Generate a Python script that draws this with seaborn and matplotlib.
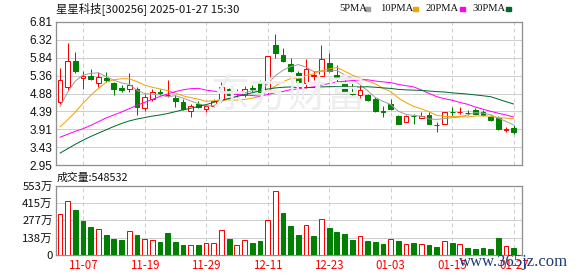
import numpy as np
import matplotlib
matplotlib.use("Agg")
import matplotlib.pyplot as plt
import seaborn as sns
from matplotlib.patches import Rectangle

# ---------------- data ----------------
open_ = [4.65, 5.06, 5.75, 5.31, 5.34, 5.15, 5.31, 5.15, 5.04, 4.99,
         5.01, 4.48, 4.72, 4.91, 4.83, 4.76, 4.65, 4.41, 4.59, 4.46,
         4.54, 4.70, 5.01, 4.86, 4.83, 5.02, 5.17, 4.92, 6.20, 5.91,
         5.68, 5.42, 5.15, 5.36, 5.35, 5.71, 5.39, 5.19, 4.89, 4.83,
         4.83, 4.74, 4.40, 4.61, 4.27, 4.12, 4.27, 4.21, 4.31, 4.02,
         4.07, 4.38, 4.37, 4.36, 4.43, 4.38, 4.25, 4.21, 3.90, 3.95]
high = [5.57, 6.24, 6.00, 5.50, 5.55, 5.46, 5.46, 5.20, 5.12, 5.43,
        5.06, 4.86, 4.99, 4.99, 5.25, 4.83, 4.72, 4.59, 4.67, 4.56,
        4.72, 5.19, 5.04, 5.01, 5.07, 5.12, 5.24, 5.90, 6.49, 6.10,
        5.84, 5.50, 5.82, 5.50, 6.20, 5.98, 5.64, 5.24, 5.15, 5.25,
        4.87, 4.79, 4.54, 4.74, 4.31, 4.30, 4.32, 4.38, 4.38, 4.12,
        4.38, 4.52, 4.52, 4.43, 4.48, 4.43, 4.30, 4.28, 3.98, 4.03]
low = [4.59, 4.97, 5.43, 5.01, 5.24, 5.06, 5.19, 4.83, 4.92, 4.92,
       4.30, 4.41, 4.68, 4.83, 4.79, 4.52, 4.43, 4.25, 4.49, 4.38,
       4.52, 4.65, 4.83, 4.79, 4.79, 4.92, 4.92, 4.88, 5.84, 5.73,
       5.46, 5.15, 5.03, 5.24, 5.35, 5.45, 5.19, 4.90, 4.83, 4.76,
       4.68, 4.38, 4.25, 4.43, 4.05, 4.12, 4.05, 4.21, 4.07, 3.85,
       4.05, 4.27, 4.32, 4.30, 4.32, 4.27, 4.14, 3.89, 3.85, 3.80]
close = [5.24, 5.75, 5.50, 5.34, 5.28, 5.32, 5.24, 5.01, 4.97, 5.10,
         4.52, 4.79, 4.91, 4.89, 4.84, 4.68, 4.45, 4.54, 4.52, 4.55,
         4.68, 5.06, 4.85, 4.87, 5.01, 5.00, 4.92, 5.90, 5.97, 5.75,
         5.49, 5.19, 5.55, 5.37, 5.80, 5.50, 5.31, 4.92, 4.88, 4.97,
         4.70, 4.40, 4.38, 4.46, 4.07, 4.27, 4.26, 4.28, 4.07, 4.03,
         4.38, 4.37, 4.38, 4.35, 4.34, 4.31, 4.16, 3.91, 3.92, 3.85]
# volume in 万 (10k shares)
volume = [326, 427, 361, 273, 222, 206, 160, 128, 120, 190,
          160, 126, 120, 104, 176, 104, 80, 77, 80, 96,
          96, 198, 128, 77, 118, 96, 112, 278, 510, 331,
          227, 160, 240, 152, 286, 216, 184, 168, 120, 152,
          112, 104, 88, 126, 112, 88, 96, 88, 80, 64,
          112, 96, 88, 56, 48, 56, 48, 136, 72, 54.85]
vol_dir = list("RRGGGRGGGRGRRGGGGRGRRRGRRGGRRGGGRGRGGGGRGGGRGRGRGGRGRGGGGGRG")

# moving-average values before a full window is visible
ma5_head = [4.52, 4.92, 5.22, 5.38]
ma10_head = [3.98, 4.17, 4.38, 4.62, 4.83, 5.02, 5.18, 5.25, 5.28]
ma20_head = [3.70, 3.78, 3.86, 3.93, 4.02, 4.12, 4.22, 4.30, 4.38, 4.47,
             4.56, 4.64, 4.72, 4.80, 4.87, 4.93, 4.98, 5.01, 5.02]
ma30_head = [3.27, 3.39, 3.51, 3.62, 3.72, 3.81, 3.90, 3.99, 4.07, 4.14,
             4.19, 4.23, 4.27, 4.30, 4.34, 4.39, 4.44, 4.48, 4.53, 4.58,
             4.64, 4.70, 4.75, 4.80, 4.85, 4.90, 4.95, 5.00, 5.03]

tick_idx = [3, 11, 19, 27, 35, 43, 51, 59]
tick_labels = ["11-07", "11-19", "11-29", "12-11", "12-23", "01-03", "01-15", "01-27"]
price_ticks = ["2.95", "3.43", "3.91", "4.39", "4.88", "5.36", "5.84", "6.32", "6.81"]
vol_ticks = ["0", "138万", "277万", "415万", "553万"]
title = "星星科技[300256] 2025-01-27 15:30"
vol_title = "成交量:548532"
ma_names = ["5PMA", "10PMA", "20PMA", "30PMA"]

# ---------------- styling ----------------
sns.set_theme(style="white")
plt.rcParams["font.family"] = ["Liberation Sans", "Noto Sans CJK SC", "DejaVu Sans"]

RED = "#ff0000"
GREEN = "#008000"
MA_COLORS = ["#a0a0a0", "#f5a300", "#ff00ff", "#006a2e"]
GRID = "#cfcfcf"
FRAME = "#909090"
W, H = 578, 276
px = 72 / 100  # one pixel in points

fig = plt.figure(figsize=(W / 100, H / 100), dpi=100)
fig.patch.set_facecolor("white")
ax1 = fig.add_axes([56 / W, 1 - 165 / H, 466 / W, 143 / H])
ax2 = fig.add_axes([56 / W, 1 - 255 / H, 466 / W, 69.5 / H])

n = len(close)
x = np.arange(n)
o = np.array(open_); c = np.array(close); hi = np.array(high); lo = np.array(low)
up = c >= o


def moving_average(head, w):
    out = list(head)
    for i in range(len(head), n):
        out.append(float(np.mean(c[i - w + 1:i + 1])))
    return np.array(out)


mas = [moving_average(ma5_head, 5), moving_average(ma10_head, 10),
       moving_average(ma20_head, 20), moving_average(ma30_head, 30)]

XL = (-0.52, 60.08)
bw = 0.62

# ---- price panel ----
ax1.set_xlim(*XL)
ax1.set_ylim(2.95, 6.81)
yt = np.linspace(2.95, 6.81, 9)
ax1.set_yticks(yt)
ax1.set_yticklabels(price_ticks)
ax1.set_xticks([])
for v in yt[1:-1]:
    ax1.axhline(v, color=GRID, lw=1 * px, zorder=0)
for t in tick_idx:
    ax1.axvline(t, color=GRID, lw=1 * px, ls=(0, (4, 3)), zorder=0)

# watermark
fig.text(288 / W, 1 - 96 / H, "东方财富", fontsize=28, color="#eeeeee",
         ha="center", va="center", family=["Noto Sans CJK SC"], zorder=0.5)

cols = np.where(up, RED, GREEN)
ax1.vlines(x, lo, hi, colors=cols, lw=1 * px, zorder=2)
body_h = np.maximum(np.abs(c - o), 0.004)
ax1.bar(x, body_h, bottom=np.minimum(o, c), width=bw,
        color=np.where(up, "white", GREEN), edgecolor=cols, linewidth=1 * px, zorder=3)

for ma, col in zip(mas, MA_COLORS):
    sns.lineplot(x=x, y=ma, ax=ax1, color=col, lw=1 * px, zorder=4)

# ---- volume panel ----
ax2.set_xlim(*XL)
ax2.set_ylim(0, 553)
vt = np.linspace(0, 553, 5)
ax2.set_yticks(vt)
ax2.set_yticklabels(vol_ticks, family=["Noto Sans CJK SC"], fontsize=8.2)
for v in vt[1:-1]:
    ax2.axhline(v, color=GRID, lw=1 * px, zorder=0)
for t in tick_idx:
    ax2.axvline(t, color=GRID, lw=1 * px, ls=(0, (4, 3)), zorder=0)
vred = np.array([d == "R" for d in vol_dir])
ax2.bar(x, volume, width=bw, color=np.where(vred, "white", GREEN),
        edgecolor=np.where(vred, RED, GREEN), linewidth=1 * px, zorder=3)
ax2.set_xticks(tick_idx)
ax2.set_xticklabels(tick_labels, color=RED, fontsize=8.3, family=["Noto Sans CJK SC"])

for ax in (ax1, ax2):
    ax.set_facecolor("white")
    ax.tick_params(length=0, pad=2.5, labelcolor="#111111", axis="y")
    ax.tick_params(length=0, pad=3, axis="x")
    for s in ax.spines.values():
        s.set_color(FRAME)
        s.set_linewidth(1.3 * px)
    ax.set_xlabel(""); ax.set_ylabel("")
for lab in ax1.get_yticklabels():
    lab.set_fontsize(8.5)
for lab in ax2.get_xticklabels():
    lab.set_color(RED)

# ---- titles and legend ----
fig.text(56 / W, 1 - 8.5 / H, title, fontsize=8.2, va="center", ha="left",
         family=["Noto Sans CJK SC"], color="#111111")
fig.text(57 / W, 1 - 177.5 / H, vol_title, fontsize=7.8, va="center", ha="left",
         family=["Noto Sans CJK SC"], color="#111111")

leg_x = [339, 380, 426, 472]
sq_x = [365, 413, 460, 506]
for name, lx, sx, col in zip(ma_names, leg_x, sq_x, MA_COLORS):
    fig.text(lx / W, 1 - 8.5 / H, name, fontsize=7.6, va="center", ha="left",
             family=["Liberation Serif"], color="#111111")
    fig.patches.append(Rectangle((sx / W, 1 - 10.5 / H), 5 / W, 3.5 / H,
                                 transform=fig.transFigure, color=col, figure=fig))

fig.text(514 / W, 1 - 262 / H, "www.365jz.com", fontsize=12, va="center", ha="center",
         family=["Liberation Serif"], color="#1f3b78", zorder=10)

fig.savefig("out.png", dpi=100, facecolor="white")
